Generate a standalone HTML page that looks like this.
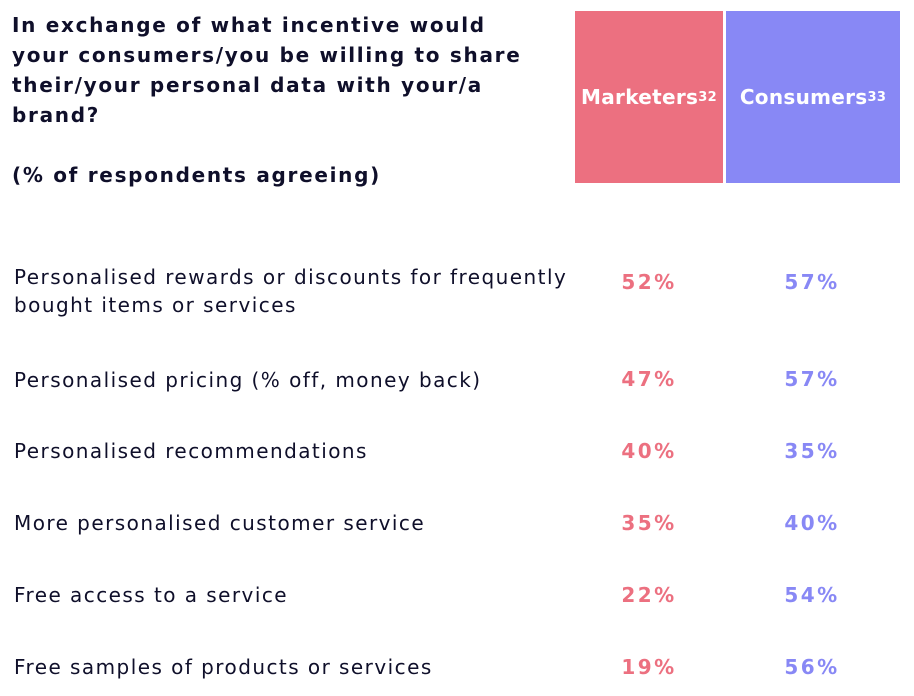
<!DOCTYPE html>
<html><head><meta charset="utf-8"><style>
body{margin:0;width:914px;height:696px;background:#fff;position:relative;overflow:hidden;font-family:"DejaVu Sans","Liberation Sans",sans-serif;color:#0f0f2a}
.t{position:absolute;left:12px;font-weight:bold;font-size:20px;line-height:30px;top:10px;white-space:nowrap;letter-spacing:1.7px}
.box{position:absolute;top:11px;height:172px;color:#fff;font-weight:bold;font-size:20px;display:flex;align-items:center;justify-content:center;letter-spacing:0.3px}
.box sup{font-size:13px;vertical-align:7px}
.r{position:absolute;left:14px;font-size:20px;line-height:28px;white-space:nowrap;letter-spacing:1.45px}
.v{position:absolute;font-size:20px;font-weight:bold;width:100px;text-align:center;letter-spacing:2.5px}
.m{left:599px;color:#ec7080}.c{left:762px;color:#8888f5}
</style></head><body>
<div class="t">In exchange of what incentive would<br>your consumers/you be willing to share<br>their/your personal data with your/a<br>brand?<br><br>(% of respondents agreeing)</div>
<div class="box" style="left:575px;width:148px;background:#ec7080">Marketers<sup>32</sup></div>
<div class="box" style="left:726px;width:174px;background:#8888f5">Consumers<sup>33</sup></div>
<div class="r" style="top:263px">Personalised rewards or discounts for frequently<br>bought items or services</div>
<div class="v m" style="top:270px">52%</div><div class="v c" style="top:270px">57%</div>
<div class="r" style="top:366px">Personalised pricing (% off, money back)</div>
<div class="v m" style="top:367px">47%</div><div class="v c" style="top:367px">57%</div>
<div class="r" style="top:437px">Personalised recommendations</div>
<div class="v m" style="top:439px">40%</div><div class="v c" style="top:439px">35%</div>
<div class="r" style="top:509px">More personalised customer service</div>
<div class="v m" style="top:511px">35%</div><div class="v c" style="top:511px">40%</div>
<div class="r" style="top:581px">Free access to a service</div>
<div class="v m" style="top:583px">22%</div><div class="v c" style="top:583px">54%</div>
<div class="r" style="top:653px">Free samples of products or services</div>
<div class="v m" style="top:655px">19%</div><div class="v c" style="top:655px">56%</div>
</body></html>
